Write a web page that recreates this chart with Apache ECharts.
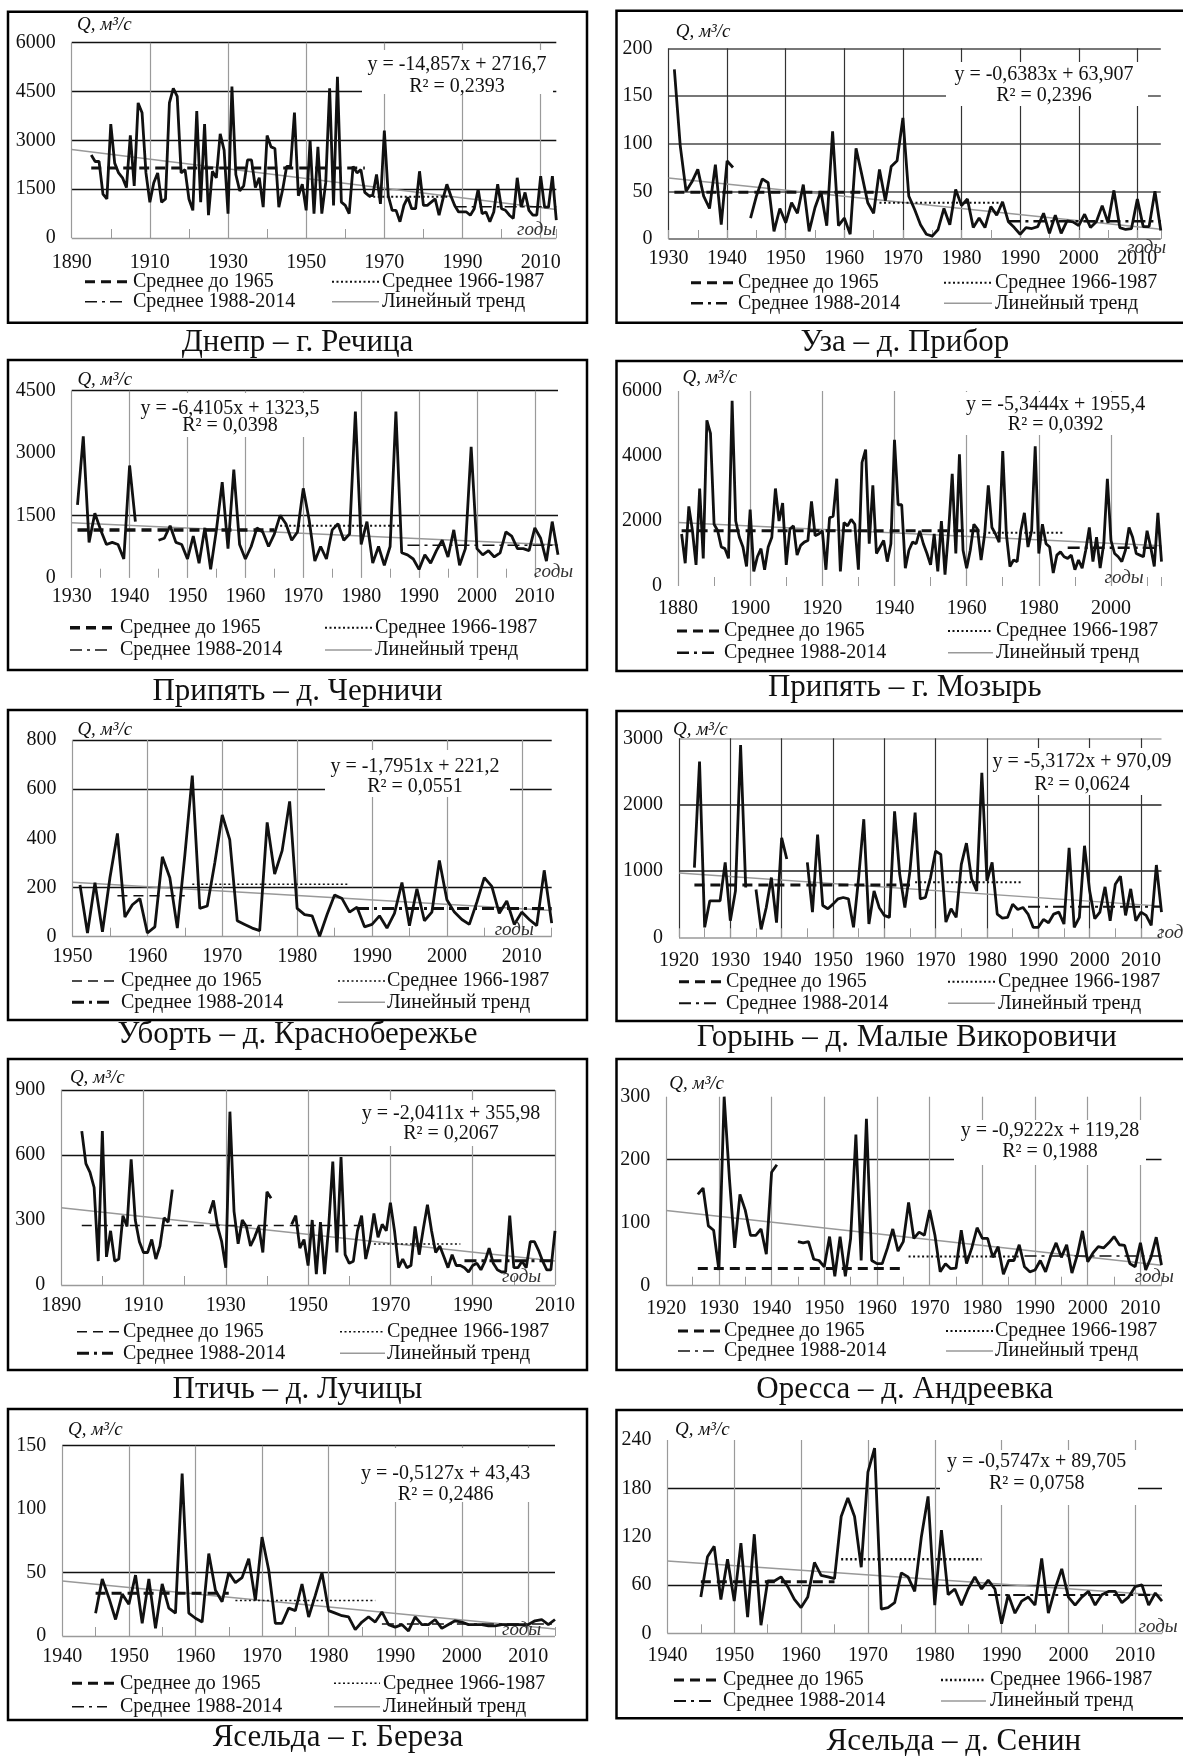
<!DOCTYPE html>
<html><head><meta charset="utf-8">
<script src="https://cdn.jsdelivr.net/npm/echarts@6/dist/echarts.min.js"></script>
<style>html,body{margin:0;padding:0;background:#fff}#c{width:1183px;height:1756px}</style>
</head><body><div id="c"></div>
<script>
// ================= DATA =================
const legendLabels = ['Среднее до 1965', 'Среднее 1966-1987', 'Среднее 1988-2014', 'Линейный тренд'];
const qLabel = 'Q, м³/с';
const yearsLabel = 'годы';

// 1. Днепр – г. Речица
const dneprStart = 1895;
const dneprQ = [2550,2350,2350,1350,1200,3500,2300,2000,1850,1550,
 3150,1600,4150,3850,2000,1100,1700,2000,1100,1200,
 4150,4600,4350,2000,2100,1200,850,3900,1100,3500,
 700,2050,1850,3200,2700,750,4650,1950,1450,1600,
 2400,2400,1550,1850,950,3150,2800,2750,950,1500,
 2200,2200,3850,1300,1650,850,3000,750,2800,750,
 1700,4600,1000,4950,1100,1000,750,2200,2000,2100,
 1400,1300,1300,1950,1050,3300,1300,850,850,500,
 1000,1250,900,900,2050,1000,1000,1100,1200,700,
 1200,1650,1300,1000,800,800,800,700,900,1500,
 750,800,500,800,1650,900,850,700,600,1850,
 950,1400,850,700,700,1900,950,950,1900,550];
const dneprMeans = [2150, 1270, 960];
const dneprTrend = [2717, 875];
const dneprEq = ['y = -14,857x + 2716,7', 'R² = 0,2393'];

// 2. Уза – д. Прибор
const uzaStart = 1931;
const uzaQ = [178,98,50,60,73,45,32,78,15,82,
 75,null,null,22,45,63,59,8,32,17,
 38,27,57,8,33,50,14,113,14,22,
 5,95,67,38,27,73,40,76,82,127,
 45,31,15,5,3,10,32,15,52,35,
 42,12,22,12,34,25,39,18,12,5,
 12,11,13,27,6,25,6,19,18,14,
 26,12,18,35,17,51,12,10,11,42,
 13,13,50,9];
const uzaMeans = [49, 38, 18.5];
const uzaTrend = [63.9, 10.3];
const uzaEq = ['y = -0,6383x + 63,907', 'R² = 0,2396'];

// 3. Припять – д. Черничи
const chernStart = 1931;
const chernQ = [1750,3400,850,1550,1150,800,850,800,450,2700,
 1350,null,null,null,900,950,1250,850,800,450,
 1000,350,1200,200,1150,2300,700,2600,800,450,
 750,1200,1100,750,1050,1500,1300,900,1100,2150,
 1400,400,750,450,1150,1300,900,1050,4000,800,
 1350,350,750,300,750,4000,600,550,450,200,
 550,350,650,900,500,1150,300,700,3150,700,
 550,650,500,600,1100,1000,700,700,650,1200,
 950,400,1350,550];
const chernMeans = [1150, 1250, 780];
const chernTrend = [1323.5, 785];
const chernEq = ['y = -6,4105x + 1323,5', 'R² = 0,0398'];

// 4. Припять – г. Мозырь
const mozyrStart = 1881;
const mozyrQ = [1600,700,2450,1700,650,3000,850,5100,4700,1900,
 1700,1200,1150,850,5700,2000,1500,1200,600,2350,
 450,900,1150,500,1200,1500,3000,2000,2550,650,
 1750,1850,950,1250,1350,1400,2600,1550,1600,1700,
 500,2100,2150,3300,450,1950,1850,2050,1900,500,
 3800,4200,1300,3100,1000,1200,1400,750,1300,4500,
 2500,2500,550,1100,1350,1300,1700,1300,1000,650,
 1600,450,2000,350,1700,3450,1000,4050,1100,550,
 1100,1900,1750,800,1600,3100,1800,1600,1350,4150,
 1600,600,800,750,1700,2250,1200,1700,4300,1000,
 1900,1300,1200,400,950,1050,900,850,950,500,
 800,550,1100,1800,750,1500,550,1300,3300,1400,
 1000,900,750,1100,1800,1500,1000,950,900,1700,
 1200,600,2250,750];
const mozyrMeans = [1700, 1640, 1180];
const mozyrTrend = [1955, 1239];
const mozyrEq = ['y = -5,3444x + 1955,4', 'R² = 0,0392'];

// 5. Уборть – д. Краснобережье
const ubortStart = 1951;
const ubortQ = [210,15,220,20,240,420,80,130,155,15,
 40,325,240,35,330,655,115,125,300,495,
 395,65,50,35,25,465,255,350,550,115,
 90,85,2,90,170,155,100,120,40,50,
 85,35,95,220,45,195,65,100,310,150,
 100,70,50,140,240,205,95,145,50,100,
 70,45,270,55];
const ubortMeans = [167, 213, 115];
const ubortTrend = [221.2, 106.3];
const ubortEq = ['y = -1,7951x + 221,2', 'R² = 0,0551'];

// 6. Горынь – д. Малые Викоровичи
const gorynStart = 1923;
const gorynQ = [1050,2650,150,550,550,550,1130,250,700,2900,
 750,null,720,120,450,900,220,1500,1180,null,
 null,null,1130,380,1550,480,430,500,580,600,
 580,150,900,1780,200,700,450,330,300,1900,
 950,450,1000,1880,580,600,900,1300,1250,230,
 430,300,1100,1420,880,700,2480,850,1130,350,
 290,300,500,420,450,350,150,150,270,220,
 350,380,200,1350,150,300,1380,700,280,380,
 760,250,800,920,330,730,250,380,330,180,
 1090,380];
const gorynMeans = [790, 830, 462];
const gorynTrend = [970, 470];
const gorynEq = ['y = -5,3172x + 970,09', 'R² = 0,0624'];

// 7. Птичь – д. Лучицы
const ptichStart = 1895;
const ptichQ = [710,560,520,450,110,710,130,250,110,120,
 320,270,580,300,200,150,150,210,120,180,
 310,290,440,null,null,null,null,null,null,null,
 null,330,390,270,200,80,800,340,190,300,
 270,180,220,270,150,430,400,null,null,null,
 null,280,320,170,210,90,300,50,290,50,
 270,570,150,590,140,100,110,250,320,120,
 200,330,220,280,250,380,250,80,120,80,
 90,270,140,260,370,250,150,180,130,80,
 140,90,90,80,60,90,100,70,110,170,
 100,70,60,60,320,80,80,110,80,200,
 200,160,110,70,70,250];
const ptichMeans = [275, 189, 112];
const ptichTrend = [356, 111];
const ptichEq = ['y = -2,0411x + 355,98', 'R² = 0,2067'];

// 8. Оресса – д. Андреевка
const oressaStart = 1926;
const oressaQ = [145,155,95,88,25,300,170,60,145,120,
 80,80,90,50,180,192,null,null,null,70,
 68,70,42,40,30,78,15,78,15,75,
 240,40,265,40,35,35,60,90,55,70,
 132,75,85,80,120,80,22,35,27,28,
 88,35,60,92,75,75,45,62,18,40,
 40,65,30,22,25,40,22,48,68,45,
 65,20,48,87,38,52,62,60,68,78,
 65,64,35,30,68,25,45,77,33];
const oressaMeans = [27.5, 46.5, 47];
const oressaTrend = [119.3, 32.6];
const oressaEq = ['y = -0,9222x + 119,28', 'R² = 0,1988'];

// 9. Ясельда – г. Береза
const berezaStart = 1945;
const berezaQ = [18,45,30,13,33,25,48,10,45,6,
 41,22,18,128,18,14,11,65,36,27,
 50,42,46,61,28,78,52,10,10,22,
 20,41,15,32,50,20,18,16,15,5,
 11,15,11,19,9,7,9,4,15,9,
 9,13,6,9,12,11,9,9,9,8,
 8,9,9,9,9,9,12,13,9,13];
const berezaMeans = [33.6, 28, 9.5];
const berezaTrend = [43.4, 5.5];
const berezaEq = ['y = -0,5127x + 43,43', 'R² = 0,2486'];

// 10. Ясельда – д. Сенин
const seninStart = 1945;
const seninQ = [45,95,108,42,92,40,112,20,123,10,
 65,65,70,58,42,32,45,88,72,70,
 68,145,168,145,82,200,230,30,32,38,
 75,70,52,120,170,35,128,48,55,35,
 55,70,55,66,55,12,48,25,40,45,
 35,93,25,55,80,45,35,45,52,35,
 48,52,52,38,45,58,60,35,50,40];
const seninMeans = [64, 92, 47.6];
const seninTrend = [89.7, 47.2];
const seninEq = ['y = -0,5747x + 89,705', 'R² = 0,0758'];

// station table built from the arrays above
const stations = [
 {cap:'Днепр – г. Речица', start:dneprStart, q:dneprQ, means:dneprMeans, m1:[1895,1965], m3end:2014, trend:dneprTrend, eq:dneprEq, xr:[1890,2014], xt:[10,20], yr:[6000,1500]},
 {cap:'Уза – д. Прибор', start:uzaStart, q:uzaQ, means:uzaMeans, m1:[1931,1965], m3end:2014, trend:uzaTrend, eq:uzaEq, xr:[1930,2014], xt:[5,10], yr:[200,50]},
 {cap:'Припять – д. Черничи', start:chernStart, q:chernQ, means:chernMeans, m1:[1931,1965], m3end:2014, trend:chernTrend, eq:chernEq, xr:[1930,2014], xt:[5,10], yr:[4500,1500]},
 {cap:'Припять – г. Мозырь', start:mozyrStart, q:mozyrQ, means:mozyrMeans, m1:[1881,1965], m3end:2014, trend:mozyrTrend, eq:mozyrEq, xr:[1880,2014], xt:[10,20], yr:[6000,2000]},
 {cap:'Уборть – д. Краснобережье', start:ubortStart, q:ubortQ, means:ubortMeans, m1:[1956,1965], m3end:2014, trend:ubortTrend, eq:ubortEq, xr:[1950,2014], xt:[5,10], yr:[800,200]},
 {cap:'Горынь – д. Малые Викоровичи', start:gorynStart, q:gorynQ, means:gorynMeans, m1:[1923,1965], m3end:2014, trend:gorynTrend, eq:gorynEq, xr:[1920,2014], xt:[5,10], yr:[3000,1000]},
 {cap:'Птичь – д. Лучицы', start:ptichStart, q:ptichQ, means:ptichMeans, m1:[1895,1965], m3end:2010, trend:ptichTrend, eq:ptichEq, xr:[1890,2010], xt:[10,20], yr:[900,300]},
 {cap:'Оресса – д. Андреевка', start:oressaStart, q:oressaQ, means:oressaMeans, m1:[1926,1965], m3end:2014, trend:oressaTrend, eq:oressaEq, xr:[1920,2014], xt:[5,10], yr:[300,100]},
 {cap:'Ясельда – г. Береза', start:berezaStart, q:berezaQ, means:berezaMeans, m1:[1945,1965], m3end:2014, trend:berezaTrend, eq:berezaEq, xr:[1940,2014], xt:[5,10], yr:[150,50]},
 {cap:'Ясельда – д. Сенин', start:seninStart, q:seninQ, means:seninMeans, m1:[1945,1965], m3end:2014, trend:seninTrend, eq:seninEq, xr:[1940,2014], xt:[5,10], yr:[240,60]}
];

// ================= LAYOUT & STYLE =================
const G = '#9a9a9a', K = '#111', T = 'transparent';
const panels = [
 {box:[8,11.7,587,322.7], grid:[71.7,42.7,556.3,238], xm:15, eq:[457,65,87], eqR:[362,50,553,94], q:[77,25], g:[517,230], leg:[281.7,301.7], lx:[85,130,133,332,379,382], cap:[297.5,343], vCol:[G,T], hCol:[G,K,K,K,K], hW:1.3, mw:[3,2,1.5]},
 {box:[616.5,10.7,1200,322.7], grid:[668.5,48.3,1160.8,239], xm:10, eq:[1044,75,95.7], eqR:[946,62,1148,106], q:[675.7,31.7], g:[1127,248.3], leg:[282.7,303.3], lx:[691,735,738,944,992,995], cap:[904.8,343], vCol:['#333',T], hCol:['#888','#777','#777','#777','#777'], hW:1.8, mw:[3,2,2.5]},
 {box:[8,360,587,670], grid:[71.7,390.7,558,577.7], xm:9.5, eq:[230,408.3,426], eqR:[138,393,325,437], q:[77.4,380], g:[534,571.7], leg:[627.7,650], lx:[70,115,120,325,372,375], cap:[297.5,691.7], vCol:[G,T], hCol:[T,K,T,K], hW:1.3, mw:[3.5,2,1.5]},
 {box:[616.5,361,1200,671], grid:[678,391,1161.5,586], xm:12.5, eq:[1055.6,405,425], eqR:[954,392,1157,435], q:[682.5,378], g:[1104.6,577.7], leg:[631,652.7], lx:[677,722,724,948,993,996], cap:[904.8,688], vCol:[G,T], hCol:[T], hW:1, mw:[3,2,2.5]},
 {box:[8,710,587,1020], grid:[72.5,740,551.7,936.7], xm:10.5, eq:[415,766.7,786.7], eqR:[325,750,510,797], q:[77.4,730], g:[494.7,930], leg:[981,1002.3], lx:[72,119,121,338,385,387], cap:[297.5,1035], vCol:[G,T], hCol:[G,K,T,K,K], hW:1.3, mw:[1.5,1.5,3]},
 {box:[616.5,711,1200,1021], grid:[679,738.3,1161.5,937.3], xm:13, eq:[1082,761.7,784.3], eqR:[990,748,1169,795], q:[673,730], g:[1157,933.3], leg:[981.7,1003.3], lx:[679,724,726,948,995,998], cap:[906.7,1038], vCol:['#333',T], hCol:[G,'#222','#222','#aaa'], hW:1.5, mw:[3,2,2]},
 {box:[8,1059,587,1370], grid:[61.2,1090,555,1285], xm:10.5, eq:[451,1113.3,1133.3], eqR:[351,1100,553,1146], q:[69.9,1078], g:[502,1276.7], leg:[1331.7,1353.3], lx:[77,121,123,340,385,387], cap:[297.5,1390], vCol:[G,T], hCol:[G,T,K,K], hW:1.3, mw:[1.5,1.5,3]},
 {box:[616.5,1059,1200,1370], grid:[666.2,1096.7,1161.5,1285.7], xm:13, eq:[1050,1131,1151.7], eqR:[954,1120,1146,1165], q:[669.3,1084.3], g:[1134.7,1276.7], leg:[1331,1351], lx:[678,722,724,946,993,995], cap:[904.8,1390], vCol:[G,T], hCol:[G,T,K,T], hW:1.3, mw:[3,2,1.5]},
 {box:[8,1409,587,1720], grid:[62.3,1445.7,555,1636], xm:11, eq:[445.6,1473.3,1494.3], eqR:[353,1448,536,1502], q:[68,1430], g:[502,1630], leg:[1683.3,1706.7], lx:[72,115,120,334,380,383], cap:[338,1738.3], vCol:[G,T], hCol:[G,K,T,K], hW:1.3, mw:[3,1.5,1.5]},
 {box:[616.5,1410,1200,1718.3], grid:[667.4,1440,1162,1633.3], xm:12, eq:[1036.7,1461.7,1483.3], eqR:[940,1450,1138,1505], q:[675,1430], g:[1138.5,1626.7], leg:[1680,1701], lx:[674,720,723,941,986,990], cap:[953.8,1741.7], vCol:[G,T], hCol:[G,K,T,K,T], hW:1.3, mw:[3,2.5,2]}
];

const FONT = '"Liberation Serif", "Times New Roman", serif';
const DASH = [10, 6], DOT = [2, 2.5], DASHDOT = [12, 5, 3, 5];

function txt(x, y, s, o) {
  const st = Object.assign({text: s, fontFamily: FONT, fontSize: 20, fill: '#111',
    align: 'left', textAlign: 'left', verticalAlign: 'middle', textVerticalAlign: 'middle'}, o || {});
  if (o && o.align) st.textAlign = o.align;
  return {type: 'text', x: x, y: y, z: 20, silent: true, style: st};
}
function seg(x1, x2, y, color, w, dash) {
  return {type: 'line', z: 20, silent: true, shape: {x1: x1, y1: y, x2: x2, y2: y},
    style: {stroke: color, lineWidth: w, lineDash: dash || null}};
}

const grids = [], xAxes = [], yAxes = [], series = [], graphics = [];

stations.forEach(function (st, i) {
  const p = panels[i];
  const x0 = st.xr[0];
  const span = st.xr[1] - x0;
  grids.push({left: p.grid[0], top: p.grid[1], width: p.grid[2] - p.grid[0], height: p.grid[3] - p.grid[1],
    containLabel: false, outerBoundsMode: 'none'});
  const labelStep = st.xt[1];
  xAxes.push({type: 'value', gridIndex: i, min: 0, max: span, interval: st.xt[0],
    axisLine: {show: false},
    axisTick: {show: true, inside: true, length: 9, lineStyle: {color: G, width: 1}},
    axisLabel: {margin: p.xm, fontFamily: FONT, fontSize: 20, color: '#111',
      formatter: function (v) { return (Math.round(v) % labelStep === 0) ? String(x0 + Math.round(v)) : ''; }},
    splitLine: {show: true, showMaxLine: (span % labelStep === 0), lineStyle: {color: p.vCol, width: 1.2}}
  });
  yAxes.push({type: 'value', gridIndex: i, min: 0, max: st.yr[0], interval: st.yr[1],
    axisLine: {show: false}, axisTick: {show: false},
    axisLabel: {margin: 16, fontFamily: FONT, fontSize: 20, color: '#111', formatter: function (v) { return String(v); }},
    splitLine: {show: true, lineStyle: {color: p.hCol, width: p.hW}}
  });

  const common = {type: 'line', xAxisIndex: i, yAxisIndex: i, symbol: 'none', showSymbol: false,
    animation: false, silent: true, connectNulls: false};
  // linear trend (endpoints at the axis ends)
  series.push(Object.assign({}, common, {z: 2, data: [[0, st.trend[0]], [span, st.trend[1]]],
    lineStyle: {color: '#999', width: 1.5}}));
  // period means
  series.push(Object.assign({}, common, {z: 3, data: [[st.m1[0] - x0, st.means[0]], [st.m1[1] - x0, st.means[0]]],
    lineStyle: {color: '#111', width: p.mw[0], type: DASH}}));
  series.push(Object.assign({}, common, {z: 3, data: [[1966 - x0, st.means[1]], [1987 - x0, st.means[1]]],
    lineStyle: {color: '#111', width: p.mw[1], type: DOT}}));
  series.push(Object.assign({}, common, {z: 3, data: [[1988 - x0, st.means[2]], [st.m3end - x0, st.means[2]]],
    lineStyle: {color: '#111', width: p.mw[2], type: DASHDOT}}));
  // annual discharge
  series.push(Object.assign({}, common, {z: 4,
    data: st.q.map(function (v, k) { return [st.start + k - x0, v]; }),
    lineStyle: {color: '#111', width: 2.8}}));

  // frame
  graphics.push({type: 'rect', z: 30, silent: true,
    shape: {x: p.box[0], y: p.box[1], width: p.box[2] - p.box[0], height: p.box[3] - p.box[1]},
    style: {fill: 'rgba(0,0,0,0)', stroke: '#000', lineWidth: 2.5}});
  // equation box
  graphics.push({type: 'rect', z: 1, silent: true,
    shape: {x: p.eqR[0], y: p.eqR[1], width: p.eqR[2] - p.eqR[0], height: p.eqR[3] - p.eqR[1]},
    style: {fill: '#fff'}});
  graphics.push(txt(p.eq[0], p.eq[1], st.eq[0], {align: 'center'}));
  graphics.push(txt(p.eq[0], p.eq[2], st.eq[1], {align: 'center'}));
  // axis names
  graphics.push(txt(p.q[0], p.q[1], qLabel, {fontStyle: 'italic', fontSize: 19}));
  graphics.push(txt(p.g[0], p.g[1], yearsLabel, {fontStyle: 'italic', fontSize: 19, fill: '#333'}));
  // legend
  const r1 = p.leg[0], r2 = p.leg[1], L = p.lx;
  graphics.push(seg(L[0], L[1], r1, '#111', p.mw[0], DASH));
  graphics.push(txt(L[2], r1, legendLabels[0]));
  graphics.push(seg(L[3], L[4], r1, '#111', p.mw[1], DOT));
  graphics.push(txt(L[5], r1, legendLabels[1]));
  graphics.push(seg(L[0], L[1] - 8, r2, '#111', p.mw[2], DASHDOT));
  graphics.push(txt(L[2], r2, legendLabels[2]));
  graphics.push(seg(L[3], L[4], r2, '#999', 1.5, null));
  graphics.push(txt(L[5], r2, legendLabels[3]));
  // caption
  graphics.push(txt(p.cap[0], p.cap[1], st.cap, {align: 'center', fontSize: 31}));
});

const chart = echarts.init(document.getElementById('c'), null, {renderer: 'canvas', width: 1183, height: 1756});
chart.setOption({
  backgroundColor: '#fff',
  animation: false,
  grid: grids,
  xAxis: xAxes,
  yAxis: yAxes,
  series: series,
  graphic: {elements: graphics}
});
</script>
</body></html>
